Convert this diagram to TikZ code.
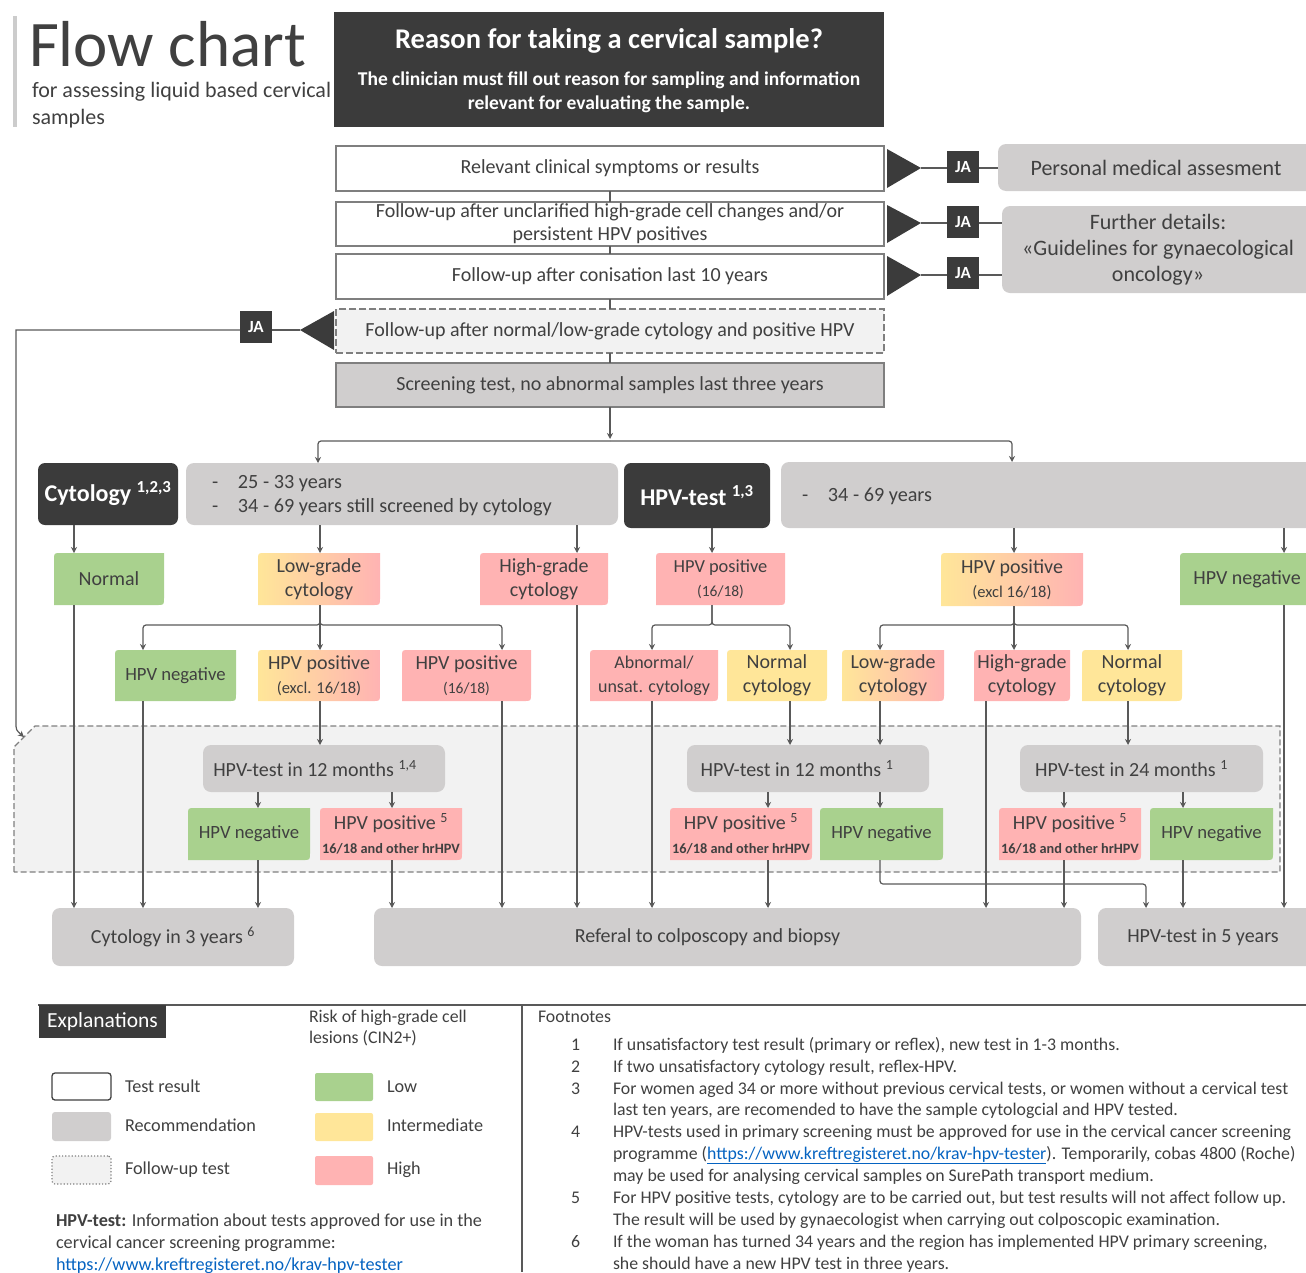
\documentclass[tikz,border=0pt]{standalone}
\usepackage{fontspec}
\setmainfont{Carlito}
\usetikzlibrary{arrows.meta}
\definecolor{tc}{HTML}{404040}
\definecolor{dk}{HTML}{3B3B3B}
\definecolor{rec}{HTML}{D0CECE}
\definecolor{grn}{HTML}{A9D18E}
\definecolor{yel}{HTML}{FFE699}
\definecolor{pnk}{HTML}{FFB3B3}
\definecolor{fu}{HTML}{F2F2F2}
\definecolor{lc}{HTML}{595959}
\definecolor{bd}{HTML}{7F7F7F}
\definecolor{lnk}{HTML}{0563C1}
\newcommand\fsz[2]{\fontsize{#1}{#2}\selectfont}
% name, x1, y1, x2, y2, style, text
\newcommand\nbox[7]{\pgfmathsetmacro\bw{#4-#2}\pgfmathsetmacro\bh{#5-#3}%
  \node[bn, #6, minimum width=\bw pt, minimum height=\bh pt] (#1) at ({(#2+#4)/2},{(#3+#5)/2}) {#7};}
\newcommand\dbox[7]{%
  \path[#6] (#2,#5) -- (#2,#3+7) .. controls (#2,#3) .. (#2+7,#3) -- (#4,#3) -- (#4,#5-7) .. controls (#4,#5) .. (#4-7,#5) -- cycle;
  \pgfmathsetmacro\bw{#4-#2}\pgfmathsetmacro\bh{#5-#3}%
  \node[bn, minimum width=\bw pt, minimum height=\bh pt] (#1) at ({(#2+#4)/2},{(#3+#5)/2}) {#7};}
\begin{document}
\begin{tikzpicture}[x=1pt,y=-1pt,
  bn/.style={inner sep=0pt, outer sep=0pt, align=center, text=tc, font=\fsz{20}{24}},
  ln/.style={draw=lc, line width=1.2pt},
  arr/.style={ln, -{Stealth[length=6pt,width=6pt]}},
  rc/.style={rounded corners=3pt},
  wb/.style={draw=bd, line width=1.5pt, fill=white},
  recb/.style={fill=rec, rounded corners=8pt},
  darkb/.style={fill=dk, rounded corners=7pt, text=white, font=\bfseries\fsz{24}{26}},
  ja/.style={fill=dk, text=white, font=\bfseries\fsz{17}{20}, minimum size=32pt, inner sep=0pt, outer sep=0pt},
  G/.style={fill=grn}, Y/.style={fill=yel}, P/.style={fill=pnk}, YP/.style={left color=yel, right color=pnk},
  lt/.style={inner sep=0pt, outer sep=0pt, text=tc, anchor=base west},
  fn/.style={lt, font=\fsz{17.8}{20}},
  lg/.style={lt, font=\fsz{18.2}{20}},
]
\useasboundingbox (0,0) rectangle (1306,1272);
% ---------- title
\fill[black!20] (13,16) rectangle (17,127);
\node[lt, font=\fsz{65}{70}, text depth=0pt] (title) at (29,66) {Flow chart};
\node[lt, font=\fsz{22}{27}, text height=13pt] (sub1) at (32,97) {for assessing liquid based cervical};
\node[lt, font=\fsz{22}{27}] (sub2) at (32,124) {samples};
\nbox{hdr}{334}{12}{884}{127}{fill=dk}{}
\node[bn, text=white, font=\bfseries\fsz{28.5}{30}] (hdrt) at (609,41) {Reason for taking a cervical sample?};
\node[bn, text=white, font=\bfseries\fsz{19.5}{24}] (hdrs) at (609,92) {The clinician must fill out reason for sampling and information\\relevant for evaluating the sample.};
% ---------- reason boxes
\nbox{b1}{336}{146}{884}{191}{wb}{Relevant clinical symptoms or results}
\nbox{b2}{336}{202}{884}{246}{wb, font=\fsz{20}{23}}{Follow-up after unclarified high-grade cell changes and/or\\persistent HPV positives}
\nbox{b3}{336}{254}{884}{299}{wb}{Follow-up after conisation last 10 years}
\nbox{b4}{336}{309}{884}{353}{draw=bd, line width=1.3pt, dash pattern=on 7pt off 3pt, fill=fu}{Follow-up after normal/low-grade cytology and positive HPV}
\nbox{b5}{336}{363}{884}{407}{draw=bd, line width=1.5pt, fill=rec}{Screening test, no abnormal samples last three years}
\draw[ln] (b1.south) -- (b2.north);
\draw[ln] (b2.south) -- (b3.north);
\draw[ln] (b3.south) -- (b4.north);
\draw[ln] (b4.south) -- (b5.north);
% triangles
\fill[dk] (887,149) -- (921,168) -- (887,188) -- cycle; \coordinate (t1) at (921,168);
\fill[dk] (887,205) -- (921,223) -- (887,243) -- cycle; \coordinate (t2) at (921,223);
\fill[dk] (887,256) -- (921,275) -- (887,296) -- cycle; \coordinate (t3) at (921,275);
\fill[dk] (334,311) -- (300,330) -- (334,350) -- cycle; \coordinate (t4) at (300,330);
\node[ja] (ja1) at (963,167) {JA};
\node[ja] (ja2) at (963,222) {JA};
\node[ja] (ja3) at (963,273) {JA};
\node[ja] (ja4) at (256,327) {JA};
\nbox{pma}{998}{144}{1314}{191}{recb, font=\fsz{22}{24}}{Personal medical assesment}
\nbox{fd}{1002}{206}{1314}{293}{recb, font=\fsz{22}{26}}{Further details:\\«Guidelines for gynaecological\\oncology»}
\draw[ln] (t1) -- (ja1.west |- t1); \draw[ln] (ja1.east |- t1) -- (pma.west |- t1);
\draw[ln] (t2) -- (ja2.west |- t2); \draw[ln] (ja2.east |- t2) -- (fd.west |- t2);
\draw[ln] (t3) -- (ja3.west |- t3); \draw[ln] (ja3.east |- t3) -- (fd.west |- t3);
\draw[ln] (t4) -- (ja4.east |- t4);
% ---------- follow-up region
\path[draw=bd, line width=1.3pt, dash pattern=on 6pt off 3pt, fill=fu] (14,872) -- (14,747) -- (35,726) -- (1280,726) -- (1280,872) -- cycle;
\coordinate (fuc) at (24,737);
\draw[arr] (ja4.west |- t4) -- (16,330) -- (16,722) .. controls (16,730) .. (fuc);
% ---------- row 2
\nbox{cyt}{38}{463}{178}{525}{darkb}{Cytology \textsuperscript{1,2,3}}
\nbox{cytr}{186}{463}{618}{525}{recb}{}
\node[lt, font=\fsz{20.2}{24}] (cytr1) at (212,488) {\makebox[26pt][l]{-}25 - 33 years};
\node[lt, font=\fsz{20.2}{24}] (cytr2) at (212,512) {\makebox[26pt][l]{-}34 - 69 years still screened by cytology};
\nbox{hpvt}{624}{463}{770}{528}{darkb}{HPV-test \textsuperscript{1,3}}
\nbox{hpvr}{781}{462}{1314}{528}{recb}{}
\node[lt, font=\fsz{20.2}{24}] (hpvr1) at (802,501) {\makebox[26pt][l]{-}34 - 69 years};
\draw[arr] (b5.south) -- (b5.south |- 0,439);
\draw[arr, rc] (b5.south |- 0,441) -| (cytr.north -| 318,0);
\draw[arr, rc] (b5.south |- 0,441) -| (hpvr.north -| 1012,0);
% ---------- row 3
\dbox{nrm}{54}{553}{164}{605}{G}{Normal}
\dbox{lgc}{258}{553}{380}{605}{YP}{Low-grade\\cytology}
\dbox{hgc}{480}{553}{608}{605}{P}{High-grade\\cytology}
\dbox{hp1618}{656}{553}{785}{605}{P}{\fsz{18.4}{22}HPV positive\\\fsz{15.5}{22}(16/18)}
\dbox{hpex}{941}{553}{1083}{606}{YP}{HPV positive\\\fsz{16.5}{23}(excl 16/18)}
\dbox{hneg}{1180}{553}{1314}{605}{G}{HPV negative}
\draw[arr] (cyt.south -| 74,0) -- (nrm.north -| 74,0);
\draw[arr] (cytr.south -| 320,0) -- (lgc.north -| 320,0);
\draw[arr] (cytr.south -| 577,0) -- (hgc.north -| 577,0);
\draw[arr] (hpvt.south -| 712,0) -- (hp1618.north -| 712,0);
\draw[arr] (hpvr.south -| 1014,0) -- (hpex.north -| 1014,0);
\draw[arr] (hpvr.south -| 1284,0) -- (hneg.north -| 1284,0);
% ---------- row 4
\dbox{hn1}{115}{650}{236}{701}{G}{\fsz{18.7}{22}HPV negative}
\dbox{hpe1}{258}{650}{380}{701}{YP}{HPV positive\\\fsz{16.5}{23}(excl. 16/18)}
\dbox{hp1}{402}{650}{531}{701}{P}{HPV positive\\\fsz{15.5}{23}(16/18)}
\dbox{abn}{590}{650}{718}{701}{P}{\fsz{18}{23}Abnormal/\\\fsz{18}{23}unsat. cytology}
\dbox{nc1}{727}{650}{827}{701}{Y}{Normal\\cytology}
\dbox{lg2}{842}{650}{944}{701}{YP}{Low-grade\\cytology}
\dbox{hg2}{974}{650}{1070}{701}{P}{High-grade\\cytology}
\dbox{nc2}{1082}{650}{1182}{701}{Y}{Normal\\cytology}
\draw[arr, rc] (lgc.south -| 320,0) -- (320,625) -| (hn1.north -| 143,0);
\draw[arr] (lgc.south -| 320,0) -- (hpe1.north -| 320,0);
\draw[arr, rc] (lgc.south -| 320,0) -- (320,625) -| (hp1.north -| 502,0);
\draw[arr, rc] (hp1618.south -| 712,0) -- (712,625) -| (abn.north -| 652,0);
\draw[arr, rc] (hp1618.south -| 712,0) -- (712,625) -| (nc1.north -| 790,0);
\draw[arr, rc] (hpex.south -| 1014,0) -- (1014,625) -| (lg2.north -| 880,0);
\draw[arr] (hpex.south -| 1014,0) -- (hg2.north -| 1014,0);
\draw[arr, rc] (hpex.south -| 1014,0) -- (1014,625) -| (nc2.north -| 1128,0);
% ---------- row 5 (follow-up tests)
\nbox{t12a}{203}{745}{445}{792}{recb}{HPV-test in 12 months \textsuperscript{1,4}\hspace*{18pt}}
\dbox{hn2}{188}{808}{310}{860}{G}{\fsz{18.7}{22}HPV negative}
\dbox{hp2}{320}{808}{462}{860}{P}{HPV positive \textsuperscript{5}\\\fsz{14.3}{18}\bfseries 16/18 and other hrHPV}
\nbox{t12b}{687}{745}{929}{792}{recb}{HPV-test in 12 months \textsuperscript{1}\hspace*{22pt}}
\dbox{hp3}{670}{808}{812}{860}{P}{HPV positive \textsuperscript{5}\\\fsz{14.3}{18}\bfseries 16/18 and other hrHPV}
\dbox{hn3}{820}{808}{943}{860}{G}{\fsz{18.7}{22}HPV negative}
\nbox{t24}{1020}{745}{1263}{792}{recb}{HPV-test in 24 months \textsuperscript{1}\hspace*{20pt}}
\dbox{hp4}{999}{808}{1141}{860}{P}{HPV positive \textsuperscript{5}\\\fsz{14.3}{18}\bfseries 16/18 and other hrHPV}
\dbox{hn4}{1150}{808}{1273}{860}{G}{\fsz{18.7}{22}HPV negative}
% ---------- row 6
\nbox{c3}{52}{908}{294}{966}{recb}{Cytology in 3 years \textsuperscript{6}}
\nbox{ref}{374}{908}{1081}{966}{recb}{Referal to colposcopy and biopsy\hspace*{40pt}}
\nbox{h5}{1098}{908}{1314}{966}{recb}{HPV-test in 5 years\hspace*{6pt}}
% connectors to lower rows
\draw[arr] (hpe1.south -| 320,0) -- (t12a.north -| 320,0);
\draw[arr] (nc1.south -| 790,0) -- (t12b.north -| 790,0);
\draw[arr] (lg2.south -| 880,0) -- (t12b.north -| 880,0);
\draw[arr] (nc2.south -| 1128,0) -- (t24.north -| 1128,0);
\draw[arr] (t12a.south -| 258,0) -- (hn2.north -| 258,0);
\draw[arr] (t12a.south -| 392,0) -- (hp2.north -| 392,0);
\draw[arr] (t12b.south -| 768,0) -- (hp3.north -| 768,0);
\draw[arr] (t12b.south -| 880,0) -- (hn3.north -| 880,0);
\draw[arr] (t24.south -| 1064,0) -- (hp4.north -| 1064,0);
\draw[arr] (t24.south -| 1183,0) -- (hn4.north -| 1183,0);
\draw[arr] (nrm.south -| 74,0) -- (c3.north -| 74,0);
\draw[arr] (hn1.south -| 143,0) -- (c3.north -| 143,0);
\draw[arr] (hn2.south -| 258,0) -- (c3.north -| 258,0);
\draw[arr] (hp2.south -| 392,0) -- (ref.north -| 392,0);
\draw[arr] (hp1.south -| 502,0) -- (ref.north -| 502,0);
\draw[arr] (hgc.south -| 577,0) -- (ref.north -| 577,0);
\draw[arr] (abn.south -| 652,0) -- (ref.north -| 652,0);
\draw[arr] (hp3.south -| 768,0) -- (ref.north -| 768,0);
\draw[arr] (hg2.south -| 986,0) -- (ref.north -| 986,0);
\draw[arr] (hp4.south -| 1064,0) -- (ref.north -| 1064,0);
\draw[arr, rc] (hn3.south -| 880,0) -- (880,884) -| (h5.north -| 1146,0);
\draw[arr] (hn4.south -| 1183,0) -- (h5.north -| 1183,0);
\draw[arr] (hneg.south -| 1284,0) -- (h5.north -| 1284,0);
% ---------- explanations
\draw[draw=lc, line width=1.2pt] (38,1005) -- (1306,1005);
\draw[draw=lc, line width=1.2pt] (522,1005) -- (522,1272);
\nbox{expl}{39}{1005}{166}{1038}{fill=dk, text=white, font=\fsz{21.5}{22}}{Explanations}
\node[lt, font=\fsz{17.8}{20}] (risk1) at (309,1022) {Risk of high-grade cell};
\node[lt, font=\fsz{17.8}{20}] (risk2) at (309,1043) {lesions (CIN2+)};
\nbox{lgw}{52}{1073}{111}{1100}{draw=tc, line width=1.3pt, fill=white, rounded corners=3pt}{}
\nbox{lgr}{52}{1112}{111}{1141}{fill=rec, rounded corners=3pt}{}
\nbox{lgf}{52}{1156}{111}{1184}{draw=bd, line width=1.2pt, dotted, fill=fu, rounded corners=3pt}{}
\nbox{lgg}{315}{1073}{373}{1101}{fill=grn, rounded corners=2pt}{}
\nbox{lgy}{315}{1113}{373}{1141}{fill=yel, rounded corners=2pt}{}
\nbox{lgp}{315}{1156}{373}{1185}{fill=pnk, rounded corners=2pt}{}
\node[lg] (lgwt) at (125,1092) {Test result};
\node[lg] (lgrt) at (125,1131) {Recommendation};
\node[lg] (lgft) at (125,1174) {Follow-up test};
\node[lg] (lggt) at (387,1092) {Low};
\node[lg] (lgyt) at (387,1131) {Intermediate};
\node[lg] (lgpt) at (387,1174) {High};
\node[lg] (info1) at (56,1226) {\textbf{HPV-test:} Information about tests approved for use in the};
\node[lg] (info2) at (56,1248) {cervical cancer screening programme:};
\node[lg, text=lnk] (info3) at (56,1270) {\underline{https://www.kreftregisteret.no/krav-hpv-tester}};
% ---------- footnotes
\node[fn] (fnh) at (538,1022) {Footnotes};
\node[fn] (n1) at (571,1050) {1};
\node[fn] (n2) at (571,1072) {2};
\node[fn] (n3) at (571,1094) {3};
\node[fn] (n4) at (571,1137) {4};
\node[fn] (n5) at (571,1203) {5};
\node[fn] (n6) at (571,1247) {6};
\node[fn] (f1) at (613,1050) {If unsatisfactory test result (primary or reflex), new test in 1-3 months.};
\node[fn] (f2) at (613,1072) {If two unsatisfactory cytology result, reflex-HPV.};
\node[fn] (f3a) at (613,1094) {For women aged 34 or more without previous cervical tests, or women without a cervical test};
\node[fn] (f3b) at (613,1115) {last ten years, are recomended to have the sample cytologcial and HPV tested.};
\node[fn] (f4a) at (613,1137) {HPV-tests used in primary screening must be approved for use in the cervical cancer screening};
\node[fn] (f4b) at (613,1159) {programme (\textcolor{lnk}{\underline{https://www.kreftregisteret.no/krav-hpv-tester}}). Temporarily, cobas 4800 (Roche)};
\node[fn] (f4c) at (613,1181) {may be used for analysing cervical samples on SurePath transport medium.};
\node[fn] (f5a) at (613,1203) {For HPV positive tests, cytology are to be carried out, but test results will not affect follow up.};
\node[fn] (f5b) at (613,1225) {The result will be used by gynaecologist when carrying out colposcopic examination.};
\node[fn] (f6a) at (613,1247) {If the woman has turned 34 years and the region has implemented HPV primary screening,};
\node[fn] (f6b) at (613,1269) {she should have a new HPV test in three years.};
\end{tikzpicture}
\end{document}
